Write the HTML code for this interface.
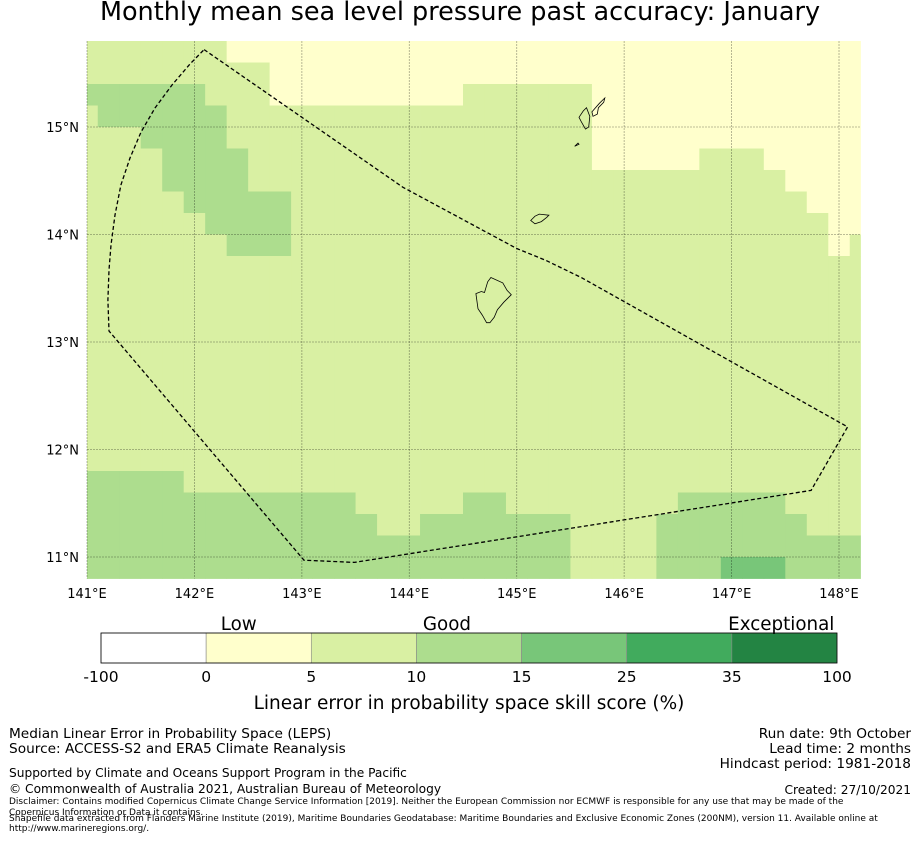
<!DOCTYPE html>
<html><head><meta charset="utf-8">
<style>
body{margin:0;background:#fff;width:919px;height:839px;overflow:hidden;font-family:"DejaVu Sans","Liberation Sans",sans-serif;}
svg text{font-family:"DejaVu Sans","Liberation Sans",sans-serif;}
</style></head>
<body>
<svg id="chart" width="919" height="839" viewBox="0 0 919 839" xmlns="http://www.w3.org/2000/svg">
<text x="460" y="20" font-size="25.5" text-anchor="middle" fill="#000">Monthly mean sea level pressure past accuracy: January</text>
<g id="cells"></g>
<g id="grid"></g>
<g id="islands"></g>
<path id="eez" fill="none" stroke="#000" stroke-width="1.3" stroke-dasharray="4,2.5"></path>
<g id="ticks"></g>
<g id="cbar"></g>
<text x="469" y="709" font-size="18.5" text-anchor="middle">Linear error in probability space skill score (%)</text>
<g font-size="13.7">
<text x="9" y="738">Median Linear Error in Probability Space (LEPS)</text>
<text x="9" y="753">Source: ACCESS-S2 and ERA5 Climate Reanalysis</text>
<text x="9" y="777" font-size="12.2">Supported by Climate and Oceans Support Program in the Pacific</text>
<text x="9" y="793" font-size="12.2">© Commonwealth of Australia 2021, Australian Bureau of Meteorology</text>
<text x="9" y="804" font-size="9">Disclaimer: Contains modified Copernicus Climate Change Service Information [2019]. Neither the European Commission nor ECMWF is responsible for any use that may be made of the</text>
<text x="9" y="815" font-size="9">Copernicus Information or Data it contains.</text>
<text x="9" y="821" font-size="9">Shapefile data extracted from Flanders Marine Institute (2019), Maritime Boundaries Geodatabase: Maritime Boundaries and Exclusive Economic Zones (200NM), version 11. Available online at</text>
<text x="9" y="831" font-size="9">http://www.marineregions.org/.</text>
</g>
<g font-size="13.7" text-anchor="end">
<text x="911" y="738">Run date: 9th October</text>
<text x="911" y="753">Lead time: 2 months</text>
<text x="911" y="768">Hindcast period: 1981-2018</text>
<text x="911" y="794" font-size="12.2">Created: 27/10/2021</text>
</g>
</svg>
<script>
// ---- data ----
const colorClasses = ["#ffffff","#ffffcc","#d9f0a3","#addd8e","#78c679","#41ab5d","#238443"];
const classBounds = ["-100","0","5","10","15","25","35","100"];
const classNames = ["Low","Good","Exceptional"];
const lonTicks = [141,142,143,144,145,146,147,148];
const latTicks = [11,12,13,14,15];
// rows from 15.8N (top) down to 10.8N, 0.2 deg each; 37 columns centred at 141.0 + 0.2k
const gridRows = [
"2222222111111111111111111111111111111",
"2222222221111111111111111111111111111",
"3333332221111111112222221111111111111",
"2333333222222222222222221111111111111",
"2223333222222222222222221111111111111",
"2222333322222222222222221111122211111",
"2222333322222222222222222222222221111",
"2222233333222222222222222222222222111",
"2222223333222222222222222222222222211",
"2222222333222222222222222222222222212",
"2222222222222222222222222222222222222",
"2222222222222222222222222222222222222",
"2222222222222222222222222222222222222",
"2222222222222222222222222222222222222",
"2222222222222222222222222222222222222",
"2222222222222222222222222222222222222",
"2222222222222222222222222222222222222",
"2222222222222222222222222222222222222",
"2222222222222222222222222222222222222",
"2222222222222222222222222222222222222",
"3333322222222222222222222222222222222",
"3333333333333222223322222222333332222",
"3333333333333322333333322223333333222",
"3333333333333333333333322223333333333",
"3333333333333333333333322223334443333"
];
const eezLon = [142.09,143.94,145.0,145.27,145.6,148.08,147.74,143.49,143.02,141.205,141.195,141.205,141.223,141.261,141.316,141.40,141.503,141.633,141.791,141.959,142.09];
const eezLat = [15.72,14.44,13.87,13.76,13.6,12.21,11.62,10.95,10.97,13.102,13.391,13.670,13.902,14.181,14.460,14.712,14.953,15.177,15.391,15.586,15.72];
// islands (lon/lat outlines)
const islandsLon = [
 [144.62,144.67,144.70,144.73,144.76,144.87,144.91,144.95,144.88,144.82,144.79,144.75,144.72,144.68,144.64,144.62],
 [145.13,145.17,145.21,145.3,145.28,145.23,145.17,145.13],
 [145.58,145.62,145.65,145.68,145.67,145.64,145.6,145.58],
 [145.7,145.77,145.82,145.81,145.76,145.75,145.71,145.7],
 [145.54,145.58,145.57,145.54]
];
const islandsLat = [
 [13.45,13.47,13.46,13.56,13.6,13.55,13.48,13.44,13.37,13.3,13.23,13.18,13.18,13.25,13.31,13.45],
 [14.13,14.17,14.19,14.18,14.16,14.12,14.1,14.13],
 [15.09,15.15,15.18,15.1,15.0,14.98,15.05,15.09],
 [15.14,15.22,15.27,15.23,15.18,15.12,15.1,15.14],
 [14.82,14.84,14.85,14.82]
];
// ---- axes ----
const X0=87, PXD=107.43, Y0=127, PYD=107.5;
const xS = lon => X0 + (lon-141)*PXD;
const yS = lat => Y0 - (lat-15)*PYD;
const LONMIN=141, LONMAX=148.2, LATMIN=10.8, LATMAX=15.8;
const NS="http://www.w3.org/2000/svg";
function mk(tag, attrs, parent){const e=document.createElementNS(NS,tag);for(const k in attrs)e.setAttribute(k,attrs[k]);parent.appendChild(e);return e;}

const cells=document.getElementById('cells');
gridRows.forEach((row,r)=>{
  const latTop=LATMAX-0.2*r, latBot=latTop-0.2;
  for(let k=0;k<row.length;k++){
    const l0=Math.max(LONMIN,141+0.2*k-0.1), l1=Math.min(LONMAX,141+0.2*k+0.1);
    const x=xS(l0), y=yS(latTop);
    const c=mk('rect',{x:x.toFixed(2),y:y.toFixed(2),width:(xS(l1)-x+0.4).toFixed(2),height:(yS(latBot)-y+0.4).toFixed(2),fill:colorClasses[+row[k]]},cells);
    
    
  }
});
const grid=document.getElementById('grid');
lonTicks.forEach(l=>{const g=mk('line',{x1:xS(l),x2:xS(l),y1:yS(LATMAX),y2:yS(LATMIN),stroke:'#000','stroke-opacity':0.35,'stroke-width':0.8,'stroke-dasharray':'2,1'},grid);
  
  });
latTicks.forEach(l=>{const g=mk('line',{x1:xS(LONMIN),x2:xS(LONMAX),y1:yS(l),y2:yS(l),stroke:'#000','stroke-opacity':0.35,'stroke-width':0.8,'stroke-dasharray':'2,1'},grid);
  
  });
const isl=document.getElementById('islands');
islandsLon.forEach((lons,i)=>{
  const d=lons.map((lo,j)=>(j?'L':'M')+xS(lo).toFixed(1)+','+yS(islandsLat[i][j]).toFixed(1)).join('')+'Z';
  const p=mk('path',{d:d,fill:'none',stroke:'#000','stroke-width':0.8},isl);
  
  
});
document.getElementById('eez').setAttribute('d',eezLon.map((lo,j)=>(j?'L':'M')+xS(lo).toFixed(1)+','+yS(eezLat[j]).toFixed(1)).join(''));
const ticks=document.getElementById('ticks');
lonTicks.forEach(l=>{const t=mk('text',{x:xS(l),y:598,'font-size':13,'text-anchor':'middle'},ticks);t.textContent=l+'°E';
  
  });
latTicks.forEach(l=>{const t=mk('text',{x:79,y:yS(l)+5,'font-size':13,'text-anchor':'end'},ticks);t.textContent=l+'°N';
  
  });
// colorbar
const cb=document.getElementById('cbar');
const CB0=101, CBW=(837-101)/colorClasses.length;
colorClasses.forEach((c,i)=>{const r=mk('rect',{x:CB0+i*CBW,y:633,width:CBW,height:30,fill:c,stroke:'#888','stroke-width':0.6},cb);
  
  });
mk('rect',{x:CB0,y:633,width:736,height:30,fill:'none',stroke:'#000','stroke-width':0.8},cb);
classBounds.forEach((b,i)=>{const t=mk('text',{x:CB0+i*CBW,y:682,'font-size':15.5,'text-anchor':'middle'},cb);t.textContent=b;
  
  });
const namePos=[1.31,3.29,6.47];
classNames.forEach((n,i)=>{const t=mk('text',{x:CB0+namePos[i]*CBW,y:630,'font-size':18.3,'text-anchor':'middle'},cb);t.textContent=n;
  
  });
</script>
</body></html>
